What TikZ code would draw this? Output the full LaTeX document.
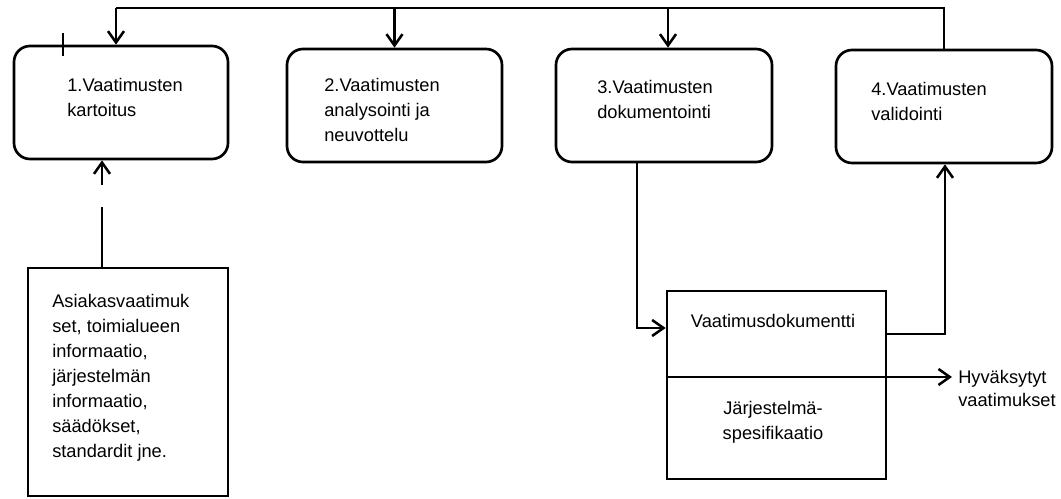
\documentclass[tikz,border=0pt]{standalone}
\usepackage{fontspec}
\setmainfont{Liberation Sans}
\usetikzlibrary{arrows.meta,fit,calc}
\begin{document}
\begin{tikzpicture}[x=0.75pt,y=-0.75pt,
  phase/.style={draw, line width=2pt, rounded corners=12pt, inner sep=0pt},
  plainbox/.style={draw, line width=2pt, inner sep=0pt},
  txt/.style={inner sep=0pt, font=\fontsize{13.7}{18.75}\selectfont, align=left, anchor=north west},
  flow/.style={line width=1.9pt, -{Straight Barb[length=8.5pt,width=12pt]}},
  link/.style={line width=1.9pt}]
\useasboundingbox (0,0) rectangle (1061,499);

% process phases
\node[phase, fit={(14,46)(228,159)}] (b1) {};
\node[phase, fit={(287,49)(502,162)}] (b2) {};
\node[phase, fit={(556,49)(772,162)}] (b3) {};
\node[phase, fit={(836,50)(1052,163)}] (b4) {};

% input and output documents
\node[plainbox, fit={(28,268)(228,496)}] (src) {};
\node[plainbox, fit={(667,291)(886,479)}] (doc) {};

% texts
\node[txt] (l1) at (67,77.5) {1.Vaatimusten\\kartoitus};
\node[txt] (l2) at (324,77.5) {2.Vaatimusten\\analysointi ja\\neuvottelu};
\node[txt] (l3) at (597,79.5) {3.Vaatimusten\\dokumentointi};
\node[txt] (l4) at (871,81.5) {4.Vaatimusten\\validointi};
\node[txt] (ls) at (52,293.5) {Asiakasvaatimuk\\set, toimialueen\\informaatio,\\järjestelmän\\informaatio,\\säädökset,\\standardit jne.};
\node[txt, anchor=base] (ld) at (773,327) {Vaatimusdokumentti};
\node[txt, anchor=north, align=center] (lj) at (773,400.5) {Järjestelmä-\\spesifikaatio};
\node[txt, font=\fontsize{13.7}{17.25}\selectfont] (acc) at (958,369.5) {Hyväksytyt\\vaatimukset};

% small tick on the first phase
\draw[line width=1.5pt] (63,33) -- (63,56);

% feedback loop along the top
\coordinate (t1) at (116,8);
\coordinate (t3) at (668,8);
\draw[link] (b4.north) -- (b4.north |- t1) -- (t1);
\draw[flow] (t1) -- (t1 |- b1.north);
\draw[flow] (b2.north |- t1) -- (b2.north);
\draw[flow] (t3) -- (t3 |- b3.north);

% input to the first phase (broken line)
\coordinate (g1) at (102,185);
\coordinate (g2) at (102,207);
\draw[link] (g2 |- src.north) -- (g2);
\draw[flow] (g1) -- (g1 |- b1.south);

% documentation into the document, document to validation
\coordinate (d3) at (637,328);
\draw[flow] (d3 |- b3.south) -- (d3) -- (d3 -| doc.west);
\coordinate (d4) at (945,334);
\draw[flow] (d4 -| doc.east) -- (d4) -- (d4 |- b4.south);

% divider and accepted requirements
\coordinate (hv) at (952,377);
\draw[line width=2pt] (doc.west |- hv) -- (doc.east |- hv);
\draw[flow] (hv -| doc.east) -- (hv);
\end{tikzpicture}
\end{document}
